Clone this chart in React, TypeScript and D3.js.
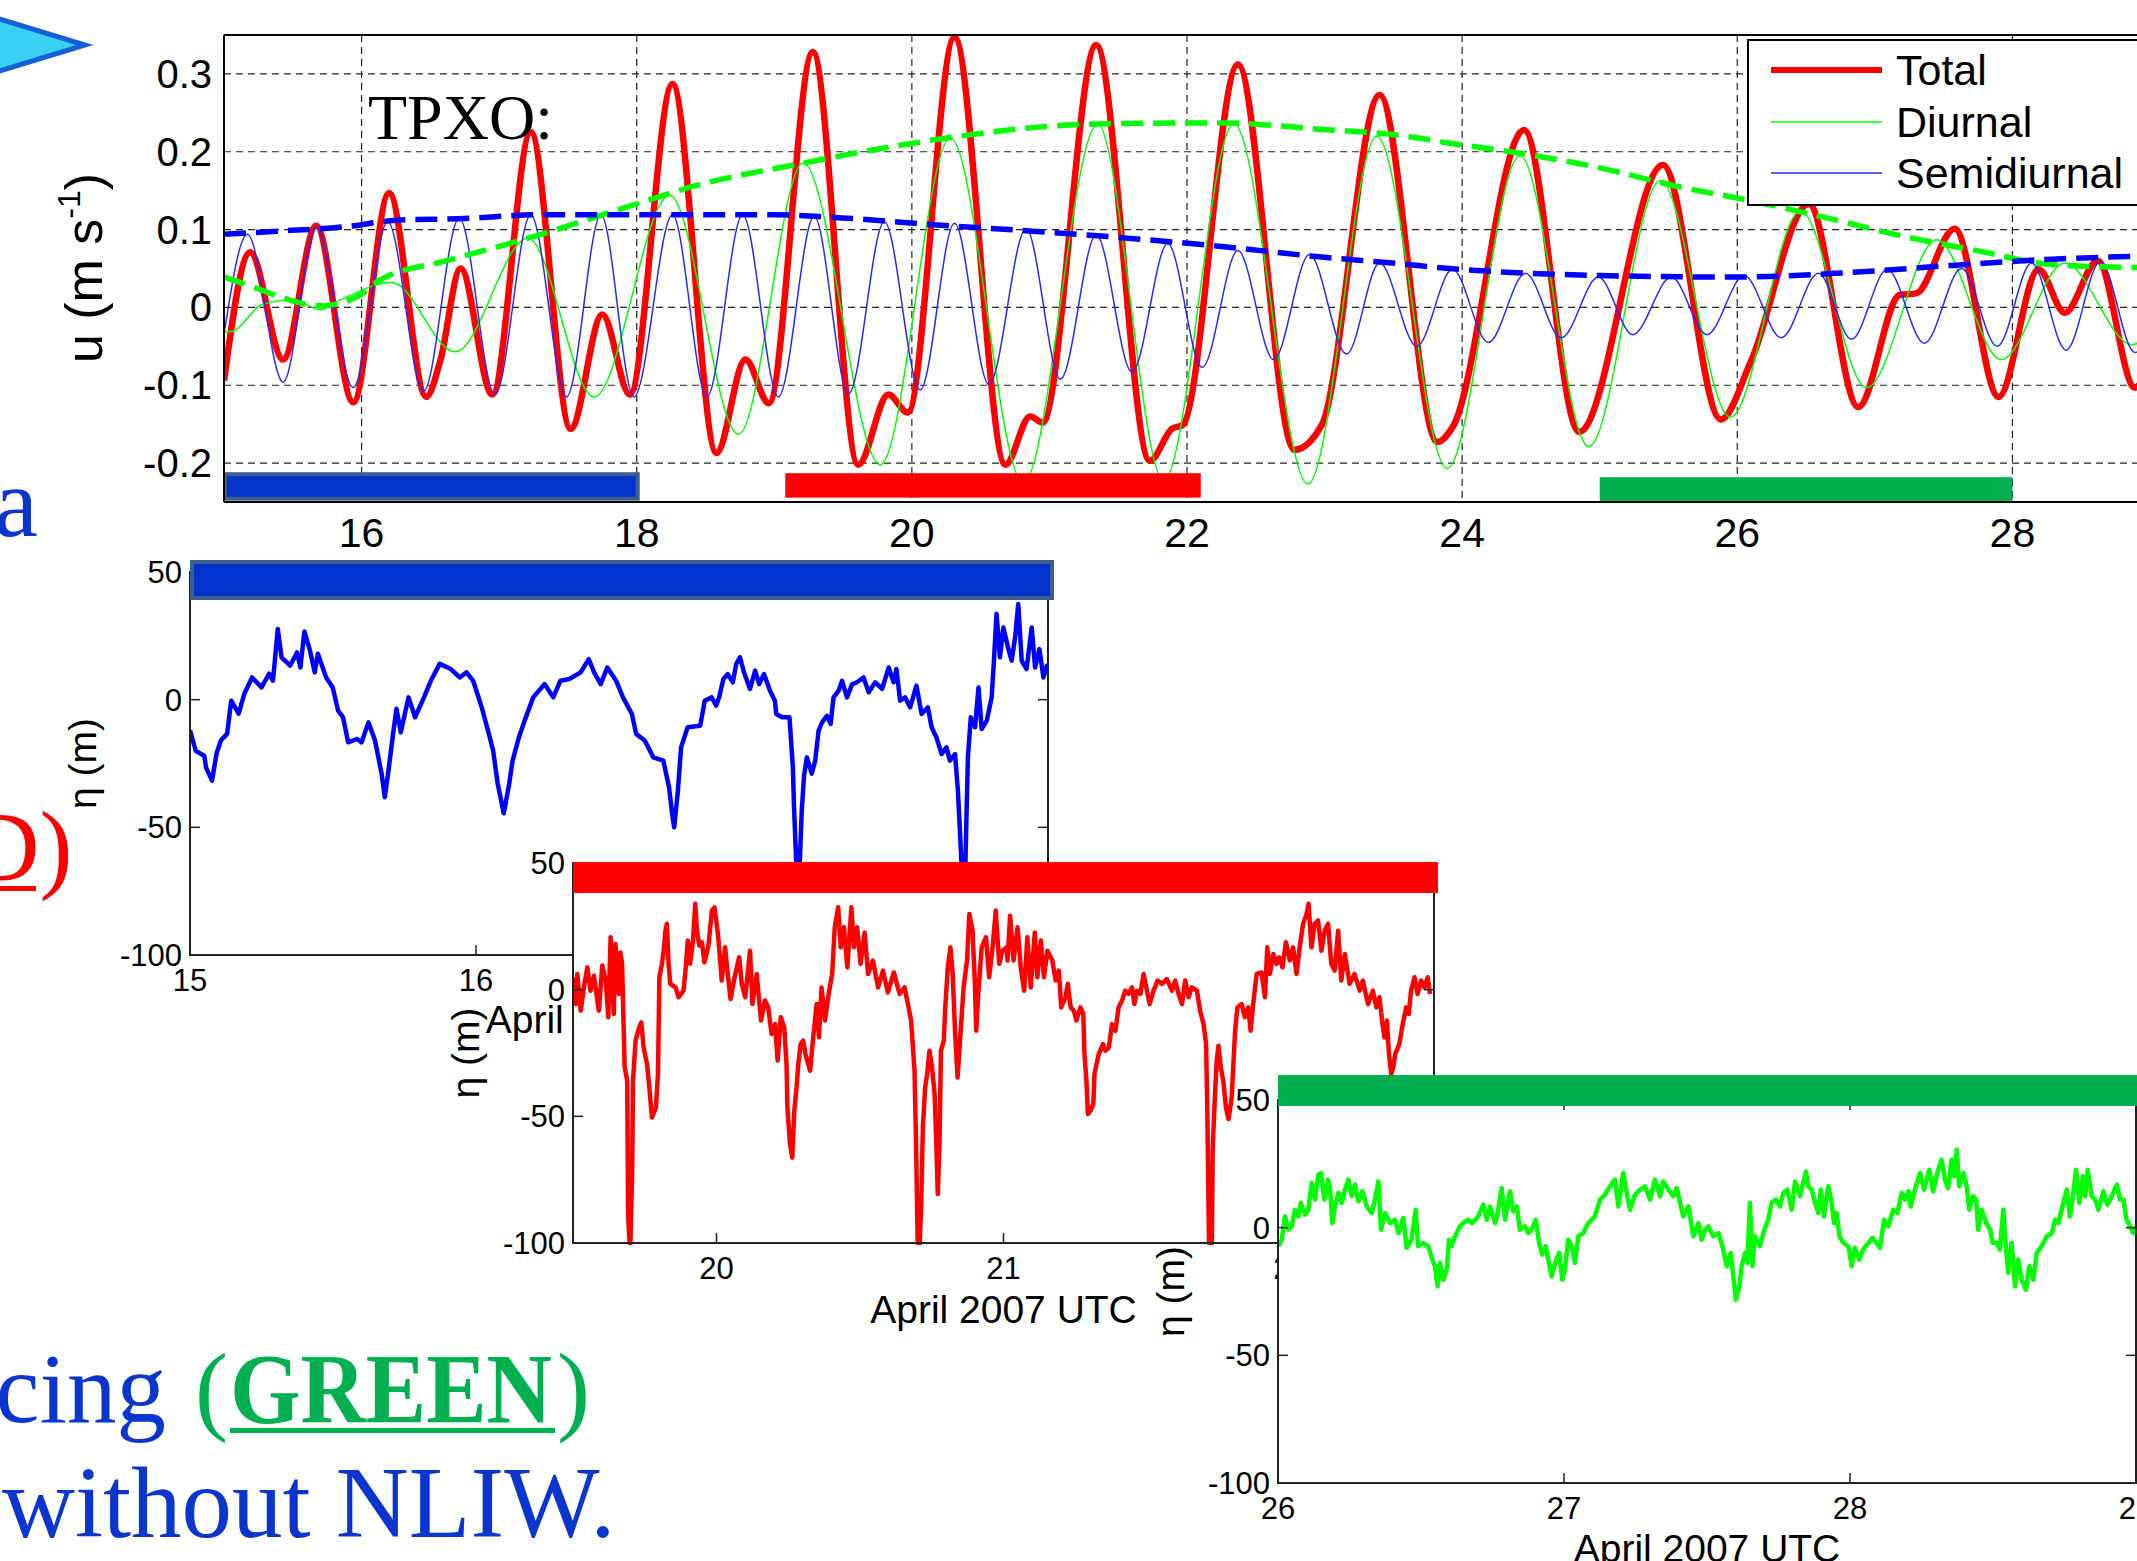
import React from "react";
import * as d3 from "d3";

type Pt = [number, number];

// ---- top panel: TPXO velocity u (m/s) vs day of April ----
const dayTicks = [16, 18, 20, 22, 24, 26, 28];
const uTicks = [-0.2, -0.1, 0, 0.1, 0.2, 0.3];
const legendNames = ["Total", "Diurnal", "Semidiurnal"];

const totalU: Pt[] = [
  [15.0, -0.094], [15.19, 0.071], [15.43, -0.067], [15.67, 0.105], [15.94, -0.122], [16.2, 0.147],
  [16.47, -0.115], [16.57, -0.07], [16.72, 0.05], [16.95, -0.112], [17.23, 0.225], [17.52, -0.156],
  [17.75, -0.009], [17.95, -0.112], [18.26, 0.287], [18.58, -0.187], [18.79, -0.067], [18.96, -0.123],
  [19.28, 0.328], [19.61, -0.202], [19.83, -0.112], [19.97, -0.135], [20.31, 0.347], [20.68, -0.202],
  [20.86, -0.14], [20.95, -0.148], [21.34, 0.337], [21.73, -0.197], [21.89, -0.156], [21.97, -0.151],
  [22.37, 0.312], [22.78, -0.183], [22.98, -0.151], [23.4, 0.273], [23.82, -0.173], [23.93, -0.154],
  [24.45, 0.228], [24.85, -0.16], [25.46, 0.183], [25.88, -0.144], [26.1, -0.069], [26.52, 0.133],
  [26.88, -0.128], [27.18, 0.016], [27.3, 0.018], [27.58, 0.101], [27.9, -0.115], [28.19, 0.049],
  [28.38, -0.007], [28.62, 0.06], [28.89, -0.103], [28.98, -0.08],
];

const diurnalU: Pt[] = [
  [15.0, -0.032], [15.07, -0.03], [15.28, 0.004], [15.5, 0.01], [15.7, -0.003], [15.85, 0.01],
  [16.22, 0.032], [16.68, -0.057], [17.21, 0.089], [17.69, -0.115], [18.24, 0.144], [18.74, -0.163],
  [19.21, 0.186], [19.77, -0.202], [20.28, 0.218], [20.81, -0.225], [21.35, 0.235], [21.83, -0.222],
  [22.34, 0.236], [22.88, -0.227], [23.38, 0.22], [23.89, -0.207], [24.42, 0.195], [24.92, -0.179],
  [25.44, 0.163], [25.95, -0.141], [26.46, 0.124], [26.94, -0.103], [27.45, 0.087], [27.92, -0.067],
  [28.38, 0.057], [28.87, -0.048], [28.98, -0.035],
];

const semidiurnalU: Pt[] = [
  [15.0, -0.035], [15.17, 0.094], [15.43, -0.096], [15.67, 0.103], [15.94, -0.103], [16.19, 0.11],
  [16.45, -0.108], [16.71, 0.115], [16.97, -0.112], [17.23, 0.119], [17.49, -0.115], [17.74, 0.119],
  [17.98, -0.115], [18.26, 0.119], [18.51, -0.115], [18.77, 0.119], [19.03, -0.115], [19.29, 0.117],
  [19.54, -0.111], [19.8, 0.11], [20.06, -0.106], [20.31, 0.108], [20.56, -0.099], [20.83, 0.101],
  [21.08, -0.092], [21.34, 0.093], [21.6, -0.083], [21.86, 0.082], [22.11, -0.077], [22.37, 0.073],
  [22.63, -0.067], [22.89, 0.068], [23.16, -0.06], [23.4, 0.057], [23.67, -0.05], [23.93, 0.049],
  [24.19, -0.045], [24.46, 0.044], [24.72, -0.039], [24.99, 0.039], [25.24, -0.035], [25.52, 0.039],
  [25.78, -0.035], [26.05, 0.041], [26.32, -0.039], [26.59, 0.044], [26.83, -0.041], [27.09, 0.049],
  [27.36, -0.046], [27.63, 0.05], [27.89, -0.05], [28.14, 0.057], [28.39, -0.055], [28.64, 0.059],
  [28.89, -0.058], [28.98, -0.045],
];

const diurnalEnv: Pt[] = [
  [15.0, 0.039], [15.2, 0.027], [15.45, 0.011], [15.7, 0.002], [15.97, 0.014], [16.13, 0.035],
  [16.62, 0.06], [17.27, 0.092], [17.91, 0.128], [18.46, 0.158], [19.14, 0.183], [20.01, 0.211],
  [20.88, 0.231], [21.43, 0.236], [22.27, 0.237], [22.96, 0.229], [23.55, 0.221], [23.91, 0.211],
  [24.46, 0.197], [25.01, 0.179], [25.55, 0.156], [26.1, 0.137], [26.65, 0.115], [27.19, 0.092],
  [27.74, 0.073], [28.29, 0.055], [28.98, 0.051],
];

const semidiurnalEnv: Pt[] = [
  [15.0, 0.094], [15.4, 0.098], [15.9, 0.104], [16.25, 0.112], [16.7, 0.114], [17.3, 0.119],
  [19.0, 0.119], [19.49, 0.115], [20.18, 0.106], [20.88, 0.098], [21.57, 0.089], [22.27, 0.078],
  [22.96, 0.065], [23.49, 0.057], [23.91, 0.05], [25.0, 0.041], [26.0, 0.039], [26.83, 0.045],
  [27.56, 0.054], [28.29, 0.062], [28.98, 0.066],
];

// periods marked by the coloured bars (day of April)
const bluePeriod: Pt = [15, 18];
const redPeriod: Pt = [19.08, 22.1];
const greenPeriod: Pt = [25, 28];

// ---- insets: eta (m) ----
const etaTicks = [50, 0, -50, -100];
const blueDays = [15, 16, 17, 18];
const redDays = [20, 21, 22];
const greenDays = [26, 27, 28, 29];

const blueEta: Pt[] = [
  [15.0, -12], [15.02, -20], [15.05, -22], [15.056, -26.5], [15.077, -31.7], [15.093, -21], [15.108, -16],
  [15.13, -13.3], [15.144, -0.4], [15.17, -5.5], [15.19, 2.3], [15.217, 8.7], [15.25, 4.8], [15.277, 10.2],
  [15.29, 7.4], [15.307, 27.7], [15.32, 16.6], [15.35, 13.3], [15.374, 18.5], [15.386, 12.6], [15.4, 26.7],
  [15.42, 19], [15.436, 10.7], [15.447, 18], [15.476, 8.7], [15.499, 4.8], [15.518, -4.3], [15.535, -6.9],
  [15.553, -16.7], [15.584, -15.4], [15.6, -16.7], [15.624, -8.9], [15.647, -16], [15.67, -29], [15.681, -38.2],
  [15.694, -27.8], [15.71, -13.4], [15.722, -3.6], [15.737, -12.8], [15.764, 0.9], [15.787, -6.9], [15.818, 0.9],
  [15.842, 7.4], [15.873, 14], [15.912, 12], [15.943, 8.7], [15.967, 10.7], [15.99, 7.4], [16.02, -3],
  [16.045, -13.4], [16.06, -20], [16.076, -33], [16.097, -44.5], [16.116, -33], [16.128, -23.9], [16.15, -14.8],
  [16.17, -8.2], [16.2, 0.9], [16.24, 6.1], [16.27, 0.9], [16.295, 7.4], [16.326, 8.1], [16.366, 10.7],
  [16.394, 15.9], [16.413, 10.7], [16.436, 6.1], [16.459, 12.6], [16.49, 7.4], [16.514, 0.9], [16.545, -5.6],
  [16.56, -13.4], [16.59, -16], [16.62, -22.6], [16.655, -23.9], [16.675, -34.3], [16.686, -44.8], [16.693, -50],
  [16.706, -35.6], [16.717, -18.7], [16.74, -10.8], [16.784, -10.2], [16.8, -0.4], [16.824, 0.9], [16.84, -2.3],
  [16.85, 0.9], [16.865, 8.1], [16.88, 10], [16.898, 6.8], [16.91, 14], [16.923, 16.6], [16.937, 10.7],
  [16.958, 4.2], [16.976, 11.4], [16.99, 6.1], [17.007, 10], [17.028, 3.5], [17.045, -0.4], [17.05, -5.6],
  [17.07, -6.9], [17.096, -6.9], [17.1, -13.4], [17.108, -26.5], [17.112, -42.2], [17.122, -70], [17.13, -70],
  [17.139, -43.5], [17.147, -29.8], [17.157, -22.6], [17.174, -29], [17.186, -23.9], [17.198, -12.1],
  [17.21, -8.9], [17.227, -6.3], [17.24, -9.5], [17.25, 0.9], [17.268, 3.5], [17.28, 7.4], [17.297, 0.9],
  [17.315, 6.1], [17.332, 6.8], [17.355, 8.7], [17.373, 2.9], [17.396, 6.8], [17.42, 4.2], [17.443, 12.6],
  [17.46, 6.8], [17.47, 12], [17.483, -0.4], [17.5, 0.9], [17.518, -3], [17.54, 5.5], [17.558, -5.6],
  [17.58, -3], [17.593, -10.8], [17.61, -14.8], [17.628, -21.3], [17.645, -18.7], [17.657, -23.9],
  [17.675, -21.3], [17.685, -35.6], [17.692, -51.3], [17.7, -70], [17.71, -70], [17.716, -40.8], [17.72, -22.6],
  [17.73, -6.9], [17.745, -10.8], [17.757, 4.8], [17.768, -11.5], [17.786, -8.2], [17.803, 0.9], [17.811, 15.3],
  [17.82, 33.6], [17.832, 16.6], [17.844, 28.3], [17.86, 20.5], [17.873, 15.3], [17.885, 24.4], [17.896, 37.5],
  [17.908, 15.3], [17.925, 12], [17.943, 28.3], [17.955, 12.6], [17.97, 19.8], [17.984, 8.7], [17.996, 13.3],
  [18.007, 12],
];

const redEta: Pt[] = [
  [19.5, 4.9], [19.51, -5.7], [19.515, 6.2], [19.527, -8.3], [19.538, 0.9], [19.55, 8.8], [19.561, -0.4],
  [19.573, 5.5], [19.59, -8.3], [19.602, 9.5], [19.614, 3.6], [19.623, -10.9], [19.631, 20.7], [19.642, -9.6],
  [19.648, 18], [19.66, -1.7], [19.665, 14.7], [19.671, 10.2], [19.68, -30.7], [19.689, -36], [19.692, -88.6],
  [19.697, -100], [19.7, -100], [19.706, -72.8], [19.709, -36], [19.718, -20.1], [19.729, -15.5], [19.738, -12.9],
  [19.746, -22.8], [19.758, -29.4], [19.766, -38.6], [19.775, -50.5], [19.789, -46.5], [19.796, -33.3],
  [19.801, 4.9], [19.81, 10.2], [19.816, 15.4], [19.822, 23.3], [19.827, 26], [19.833, 10.2], [19.839, 2.3],
  [19.857, 0.9], [19.868, -3], [19.885, -0.4], [19.893, 8.8], [19.9, 19.4], [19.908, 10.2], [19.918, 19.4],
  [19.926, 33.9], [19.932, 23.3], [19.94, 17.4], [19.949, 18.7], [19.958, 10.8], [19.972, 17.4], [19.984, 31.2],
  [19.993, 32.5], [20.005, 22], [20.013, 11.5], [20.018, 3.6], [20.03, 16.7], [20.039, 6.2], [20.049, -3.7],
  [20.063, 4.9], [20.079, 12.8], [20.088, 2.3], [20.1, -3], [20.117, 15.4], [20.125, -5.7], [20.14, 6.2],
  [20.155, -12.2], [20.169, -4.3], [20.18, -7], [20.192, -17.5], [20.204, -13.6], [20.213, -28], [20.224, -10.9],
  [20.236, -14.9], [20.244, -29.4], [20.247, -46.5], [20.256, -61], [20.264, -66.3], [20.271, -47.8],
  [20.279, -38.6], [20.285, -29.4], [20.293, -21.5], [20.302, -20.1], [20.31, -25.4], [20.326, -32],
  [20.337, -18.8], [20.349, -5.7], [20.357, -18.8], [20.366, 0.9], [20.378, -12.2], [20.389, -3], [20.403, 6.2],
  [20.412, 24.6], [20.424, 32.5], [20.433, 16.7], [20.444, 24.6], [20.456, 8.8], [20.47, 32.5], [20.479, 16.7],
  [20.49, 24.6], [20.502, 10.2], [20.516, 22.6], [20.528, 6.2], [20.545, 11.5], [20.563, 0.9], [20.58, 7.5],
  [20.597, -1.1], [20.618, 6.8], [20.638, -1.7], [20.655, 0.9], [20.667, -5.7], [20.678, -12.2], [20.69, -32],
  [20.696, -64.9], [20.701, -100], [20.708, -100], [20.713, -86], [20.719, -54.4], [20.727, -38.6],
  [20.734, -33.3], [20.742, -24.1], [20.751, -30.7], [20.76, -41.2], [20.765, -57], [20.771, -80.7],
  [20.777, -61], [20.782, -24.1], [20.792, -20.1], [20.797, -7], [20.806, 8.8], [20.815, 16.7], [20.823, 6.2],
  [20.831, -16.2], [20.84, -34.7], [20.85, -17.5], [20.861, 0.9], [20.873, 11.5], [20.881, 29.9], [20.892, 23.3],
  [20.9, 3.6], [20.905, -16.2], [20.912, -1.7], [20.924, 16.7], [20.939, 20.7], [20.95, 4.9], [20.962, 16.7],
  [20.973, 31.2], [20.985, 10.2], [20.997, 15.4], [21.011, 16.7], [21.014, 11.5], [21.023, 29.2], [21.035, 11.5],
  [21.049, 24.6], [21.06, 8.8], [21.072, -0.4], [21.083, 20.7], [21.095, 0.9], [21.109, 22.6], [21.118, 4.9],
  [21.13, 19.4], [21.141, 4.9], [21.153, 15.4], [21.17, 11.5], [21.182, 3.6], [21.193, 7.5], [21.201, -7],
  [21.216, -3], [21.224, 2.3], [21.234, -7], [21.245, -8.3], [21.254, -12.2], [21.268, -7], [21.278, -9.6],
  [21.282, -25.4], [21.289, -36], [21.294, -49.1], [21.303, -47.8], [21.313, -45.2], [21.317, -33.3],
  [21.324, -29.4], [21.332, -25.4], [21.347, -21.5], [21.355, -24.1], [21.367, -22.8], [21.378, -13.6],
  [21.39, -16.2], [21.401, -7], [21.413, -4.3], [21.424, -0.4], [21.436, -1.7], [21.448, 0.9], [21.456, -5.7],
  [21.465, -0.4], [21.477, -1.7], [21.488, 6.2], [21.5, -0.4], [21.509, -5.7], [21.523, -0.4], [21.537, 3.6],
  [21.552, 2.3], [21.569, 4.2], [21.587, -0.4], [21.598, 3.6], [21.61, -1.7], [21.622, -5.7], [21.633, 3.6],
  [21.645, -3], [21.656, 0.9], [21.674, -0.4], [21.685, -8.3], [21.697, -13.6], [21.706, -21.5], [21.71, -46.5],
  [21.716, -100], [21.726, -100], [21.729, -62.3], [21.737, -41.2], [21.743, -28], [21.749, -22.1],
  [21.757, -30.7], [21.766, -36], [21.775, -46.5], [21.784, -51.1], [21.795, -42.6], [21.801, -29.4],
  [21.807, -16.2], [21.815, -7], [21.83, -5.7], [21.841, -10.9], [21.853, -7], [21.861, -16.2], [21.87, -5.7],
  [21.882, 6.2], [21.899, 6.8], [21.911, -3], [21.919, 16.7], [21.928, 6.2], [21.94, 14.1], [21.951, 10.2],
  [21.96, 12.8], [21.972, 8.8], [21.984, 18.7], [21.998, 11.5], [22.009, 16.7], [22.021, 6.2], [22.032, 16.7],
  [22.044, 26], [22.056, 29.9], [22.063, 33.9], [22.073, 16.7], [22.084, 26], [22.096, 27.3], [22.108, 15.4],
  [22.119, 23.3], [22.131, 26], [22.142, 10.2], [22.154, 7.5], [22.166, 23.3], [22.177, 3.6], [22.189, 14.1],
  [22.206, 2.3], [22.223, 6.2], [22.241, -0.4], [22.252, 3.6], [22.27, -5.7], [22.287, -0.4], [22.299, -7],
  [22.31, -3], [22.319, -12.2], [22.327, -18.8], [22.336, -12.2], [22.343, -25.4], [22.351, -33.3],
  [22.358, -30.7], [22.365, -25.4], [22.379, -21.5], [22.391, -13.6], [22.403, -7], [22.412, -9.6],
  [22.42, -0.4], [22.432, 4.9], [22.443, -1.7], [22.455, 3.6], [22.467, 0.9], [22.478, 4.9], [22.486, -1.7],
];

const greenEta: Pt[] = [
  [26.001, -7.3], [26.013, -4.7], [26.024, 4.4], [26.036, -0.8], [26.048, 0.5], [26.059, 7], [26.071, 4.4],
  [26.08, 9.7], [26.094, 5.1], [26.106, 7], [26.118, 17.5], [26.129, 11], [26.141, 20.7], [26.15, 21.4],
  [26.162, 11], [26.174, 18.8], [26.182, 14.9], [26.19, 1.8], [26.199, 8.3], [26.211, 13.6], [26.223, 9.7],
  [26.234, 14.9], [26.246, 18.8], [26.258, 12.3], [26.269, 16.8], [26.281, 10.3], [26.295, 14.2], [26.31, 8.3],
  [26.328, 5.7], [26.339, 11], [26.351, 18.1], [26.36, -0.8], [26.374, 5.7], [26.392, 1.8], [26.409, 3.1],
  [26.421, -2.1], [26.438, 3.8], [26.45, -7.9], [26.467, -4.7], [26.481, 7], [26.49, -7.3], [26.508, -6],
  [26.525, -7.3], [26.54, -12.5], [26.549, -15.1], [26.558, -23], [26.566, -13.8], [26.578, -20.4],
  [26.59, -16.4], [26.598, -4.7], [26.607, -7.3], [26.619, -3.4], [26.636, 0.5], [26.648, 1.8], [26.663, 3.1],
  [26.679, 1.8], [26.7, 4.4], [26.718, 9], [26.73, 3.1], [26.741, 8.3], [26.759, 1.8], [26.768, 5.7],
  [26.782, 15.5], [26.794, 3.1], [26.811, 14.2], [26.823, 6.4], [26.835, 8.3], [26.846, -0.8], [26.864, 0.5],
  [26.875, -2.1], [26.887, -0.8], [26.901, 3.1], [26.913, -6], [26.924, -10.6], [26.936, -7.3], [26.945, -12.5],
  [26.957, -19.1], [26.969, -13.8], [26.983, -9.9], [26.994, -20.4], [27.003, -16.4], [27.015, -4.7],
  [27.027, -7.3], [27.038, -13.8], [27.05, -3.4], [27.067, -2.1], [27.085, 1.8], [27.108, 4.4], [27.126, 11],
  [27.143, 12.9], [27.161, 16.2], [27.178, 18.8], [27.19, 8.3], [27.207, 21.4], [27.219, 13.6], [27.231, 7],
  [27.248, 12.9], [27.266, 14.9], [27.283, 16.2], [27.301, 11], [27.318, 18.8], [27.336, 12.3], [27.347, 18.1],
  [27.365, 14.9], [27.382, 12.3], [27.394, 15.5], [27.406, 9.7], [27.417, 4.4], [27.435, 8.3], [27.452, -3.4],
  [27.47, 1.8], [27.481, -4.7], [27.493, -0.8], [27.505, 0.5], [27.522, -3.4], [27.54, -2.1], [27.557, -8.6],
  [27.569, -15.1], [27.583, -9.9], [27.592, -19.1], [27.601, -28.2], [27.613, -23], [27.621, -15.1],
  [27.633, -9.9], [27.641, -13.8], [27.65, 9.7], [27.659, -15.1], [27.667, -3.4], [27.685, -7.3], [27.697, -2.1],
  [27.714, 3.1], [27.726, 9.7], [27.741, 11], [27.755, 8.3], [27.767, 13.6], [27.781, 14.9], [27.796, 7],
  [27.808, 18.1], [27.825, 12.3], [27.846, 22], [27.854, 16.2], [27.866, 14.9], [27.878, 9.7], [27.889, 5.7],
  [27.898, 14.9], [27.909, 4.4], [27.924, 16.2], [27.936, 9.7], [27.944, 1.8], [27.953, 5.7], [27.963, -3.4],
  [27.977, -6], [27.994, -7.3], [28.006, -15.1], [28.017, -7.9], [28.032, -12.5], [28.046, -8.6], [28.064, -6],
  [28.079, -4], [28.093, -6], [28.105, -7.9], [28.119, 3.1], [28.134, 0.5], [28.151, 7], [28.165, 5.7],
  [28.181, 13.6], [28.192, 11], [28.204, 14.2], [28.212, 8.3], [28.227, 14.9], [28.245, 21.4], [28.259, 14.9],
  [28.277, 22.7], [28.291, 14.2], [28.305, 21.4], [28.32, 26.6], [28.332, 18.8], [28.343, 15.5], [28.355, 26.6],
  [28.364, 20.1], [28.373, 30.5], [28.382, 16.2], [28.396, 21.4], [28.408, 16.2], [28.417, 7], [28.429, 12.3],
  [28.441, 11], [28.448, -0.8], [28.46, 7], [28.476, 1.8], [28.49, -0.8], [28.499, -6], [28.513, -6],
  [28.524, -8.6], [28.536, 7], [28.545, -7.3], [28.553, -17.7], [28.565, -6], [28.577, -23], [28.588, -12.5],
  [28.6, -20.4], [28.615, -24.3], [28.627, -15.1], [28.641, -20.4], [28.653, -9.9], [28.67, -7.3], [28.688, -3.4],
  [28.706, -2.1], [28.717, 3.1], [28.728, 1.8], [28.746, 9.7], [28.758, 14.9], [28.769, 4.4], [28.781, 13.6],
  [28.79, 22.7], [28.802, 9.7], [28.814, 20.1], [28.822, 12.3], [28.831, 22.7], [28.845, 12.3], [28.857, 11],
  [28.869, 7], [28.886, 14.2], [28.9, 9], [28.915, 12.3], [28.933, 16.8], [28.944, 11], [28.956, 11],
  [28.967, 3.1], [28.979, 0.5], [28.99, -2.1], [28.997, 0.5],
];

const SANS = "'Liberation Sans', Arial, sans-serif";
const SERIF = "'Liberation Serif', 'Times New Roman', serif";
const TXT_BLUE = "#0a35cf";
const TXT_GREEN = "#00b050";

function fmtU(v: number) {
  return v === 0 ? "0" : v.toFixed(1);
}

const TopPanel: React.FC = () => {
  const left = 224, top = 35, bottom = 502;
  const x = d3.scaleLinear().domain([15, 29]).range([left, 2150]);
  const y = d3.scaleLinear().domain([-0.25, 0.35]).range([bottom, top]);
  const smooth = d3.line<Pt>().x((d) => x(d[0])).y((d) => y(d[1])).curve(d3.curveMonotoneX);

  const barTop = y(-0.213);
  const barH = y(-0.247) - barTop;

  return (
    <g>
      <clipPath id="topclip">
        <rect x={left} y={top} width={2150 - left} height={bottom - top} />
      </clipPath>
      {/* grid */}
      {dayTicks.map((d) => (
        <line key={"gx" + d} x1={x(d)} x2={x(d)} y1={top} y2={bottom} stroke="#222" strokeWidth={1.2} strokeDasharray="7 5" />
      ))}
      {uTicks.map((v) => (
        <line key={"gy" + v} x1={left} x2={2150} y1={y(v)} y2={y(v)} stroke="#222" strokeWidth={1.2} strokeDasharray="7 5" />
      ))}

      <g clipPath="url(#topclip)">
        <path d={smooth(totalU) || ""} fill="none" stroke="#ff0000" strokeWidth={6.5} strokeLinejoin="round" />
        <path d={smooth(diurnalU) || ""} fill="none" stroke="#00ff00" strokeWidth={1.5} />
        <path d={smooth(semidiurnalU) || ""} fill="none" stroke="#2828ff" strokeWidth={1.5} />
        <path d={smooth(diurnalEnv) || ""} fill="none" stroke="#00ff00" strokeWidth={5.5} strokeDasharray="22 10" />
        <path d={smooth(semidiurnalEnv) || ""} fill="none" stroke="#0000ff" strokeWidth={5.5} strokeDasharray="22 10" />
      </g>

      {/* period bars */}
      <rect x={x(bluePeriod[0]) + 1} y={barTop + 1} width={x(bluePeriod[1]) - x(bluePeriod[0])} height={barH - 2}
        fill="#0033cc" stroke="#3c5f8f" strokeWidth={4} />
      <rect x={x(redPeriod[0])} y={barTop} width={x(redPeriod[1]) - x(redPeriod[0])} height={barH - 2} fill="#ff0000" />
      <rect x={x(greenPeriod[0])} y={barTop + 4} width={x(greenPeriod[1]) - x(greenPeriod[0])} height={barH - 2} fill="#00b050" />

      {/* frame */}
      <line x1={left} x2={2150} y1={top} y2={top} stroke="#000" strokeWidth={2} />
      <line x1={left} x2={2150} y1={bottom} y2={bottom} stroke="#000" strokeWidth={2} />
      <line x1={left} x2={left} y1={top} y2={bottom} stroke="#000" strokeWidth={2} />

      {uTicks.map((v) => (
        <text key={"ty" + v} x={left - 12} y={y(v) + 14} textAnchor="end" fontFamily={SANS} fontSize={40}>
          {fmtU(v)}
        </text>
      ))}
      {dayTicks.map((d) => (
        <text key={"tx" + d} x={x(d)} y={bottom + 45} textAnchor="middle" fontFamily={SANS} fontSize={41}>
          {d}
        </text>
      ))}

      <text transform={`translate(102, 268) rotate(-90)`} textAnchor="middle" fontFamily={SANS} fontSize={52}>
        u (m s<tspan fontSize={32} dy={-22}>-1</tspan>
        <tspan dy={22}>)</tspan>
      </text>

      <text x={368} y={139} fontFamily={SERIF} fontSize={64}>TPXO:</text>

      {/* legend */}
      <rect x={1748} y={40} width={450} height={165} fill="#fff" stroke="#000" strokeWidth={2} />
      {legendNames.map((n, i) => {
        const ly = [70, 122, 173][i];
        const col = ["#ff0000", "#00ff00", "#2828ff"][i];
        const sw = [6, 1.5, 1.5][i];
        return (
          <g key={n}>
            <line x1={1771} x2={1882} y1={ly} y2={ly} stroke={col} strokeWidth={sw} />
            <text x={1896} y={ly + 15} fontFamily={SANS} fontSize={43}>{n}</text>
          </g>
        );
      })}
    </g>
  );
};

interface InsetProps {
  id: string;
  data: Pt[];
  domain: Pt;
  left: number;
  right: number;
  top: number;
  bottom: number;
  days: number[];
  color: string;
  barColor: string;
  barStroke?: string;
  barTop: number;
  barH: number;
  barRight: number;
  labelBaseline: number;
}

const Inset: React.FC<InsetProps> = (p) => {
  const x = d3.scaleLinear().domain(p.domain).range([p.left, p.right]);
  const y = d3.scaleLinear().domain([-100, 50]).range([p.bottom, p.top]);
  const line = d3.line<Pt>().x((d) => x(d[0])).y((d) => y(d[1]));
  const frame = "#222";
  return (
    <g>
      <rect x={p.left} y={p.barTop} width={p.right - p.left} height={p.bottom - p.barTop} fill="#fff" />
      <clipPath id={p.id}>
        <rect x={p.left} y={p.top} width={p.right - p.left} height={p.bottom - p.top + 2} />
      </clipPath>
      <path d={line(p.data) || ""} fill="none" stroke={p.color} strokeWidth={4.5} strokeLinejoin="round"
        clipPath={`url(#${p.id})`} />

      {/* frame + ticks */}
      <rect x={p.left} y={p.top} width={p.right - p.left} height={p.bottom - p.top} fill="none" stroke={frame} strokeWidth={2} />
      {etaTicks.map((v) => (
        <g key={"t" + v}>
          <line x1={p.left} x2={p.left + 10} y1={y(v)} y2={y(v)} stroke={frame} strokeWidth={1.5} />
          <line x1={p.right - 10} x2={p.right} y1={y(v)} y2={y(v)} stroke={frame} strokeWidth={1.5} />
        </g>
      ))}
      {p.days.map((d) => (
        <g key={"d" + d}>
          <line x1={x(d)} x2={x(d)} y1={p.bottom} y2={p.bottom - 10} stroke={frame} strokeWidth={1.5} />
          <line x1={x(d)} x2={x(d)} y1={p.top} y2={p.top + 10} stroke={frame} strokeWidth={1.5} />
        </g>
      ))}

      <rect x={p.left + (p.barStroke ? 2 : 0)} y={p.barTop + (p.barStroke ? 2 : 0)}
        width={p.barRight - p.left - (p.barStroke ? 4 : 0)} height={p.barH - (p.barStroke ? 4 : 0)}
        fill={p.barColor} stroke={p.barStroke || "none"} strokeWidth={p.barStroke ? 4 : 0} />

      {etaTicks.map((v) => (
        <text key={"l" + v} x={p.left - 8} y={y(v) + 11} textAnchor="end" fontFamily={SANS} fontSize={31}>
          {v}
        </text>
      ))}
      {p.days.map((d) => (
        <text key={"ld" + d} x={x(d)} y={p.bottom + 36} textAnchor="middle" fontFamily={SANS} fontSize={31}>
          {d}
        </text>
      ))}
      <text x={(p.left + p.right) / 2} y={p.labelBaseline} textAnchor="middle" fontFamily={SANS} fontSize={39}>
        April 2007 UTC
      </text>
      <text transform={`translate(${p.left - 94}, ${(p.top + p.bottom) / 2}) rotate(-90)`} textAnchor="middle"
        fontFamily={SANS} fontSize={39}>
        η (m)
      </text>
    </g>
  );
};

const App: React.FC = () => {
  return (
    <svg width={2137} height={1561} style={{ position: "absolute", left: 0, top: 0, background: "#fff" }}>
      <rect x={0} y={0} width={2137} height={1561} fill="#fff" />

      {/* slide text fragments on the left */}
      <polygon points="-20,13 85,45 -20,77" fill="#3ad2f2" stroke="#1560d8" strokeWidth={5} strokeLinejoin="miter" />
      <text x={-6} y={536} fontFamily={SERIF} fontSize={99} fill={TXT_BLUE}>a</text>
      <text x={-32} y={880} fontFamily={SERIF} fontSize={99} fill="#ff0000">D)</text>
      <rect x={-32} y={886} width={68} height={5} fill="#ff0000" />
      <text x={166} y={1422} textAnchor="end" fontFamily={SERIF} fontSize={99} fill={TXT_BLUE}>cing</text>
      <text x={195} y={1422} fontFamily={SERIF} fontSize={99} fill={TXT_GREEN}>(</text>
      <text x={230} y={1422} fontFamily={SERIF} fontSize={99} fontWeight="bold" fill={TXT_GREEN}
        textLength={322} lengthAdjust="spacingAndGlyphs">GREEN</text>
      <rect x={230} y={1428} width={325} height={5} fill={TXT_GREEN} />
      <text x={557} y={1422} fontFamily={SERIF} fontSize={99} fill={TXT_GREEN}>)</text>
      <text x={2} y={1537} fontFamily={SERIF} fontSize={101} fill={TXT_BLUE}>without NLIW.</text>

      <TopPanel />

      <Inset id="cb" data={blueEta} domain={[15, 18]} left={190} right={1048} top={572} bottom={955}
        days={blueDays} color="#0000ff" barColor="#0033cc" barStroke="#3c5f8f" barTop={560} barH={40}
        barRight={1054} labelBaseline={1033} />
      <Inset id="cr" data={redEta} domain={[19.5, 22.5]} left={573} right={1434} top={863} bottom={1243}
        days={redDays} color="#ff0000" barColor="#ff0000" barTop={862} barH={31} barRight={1438}
        labelBaseline={1323} />
      <Inset id="cg" data={greenEta} domain={[26, 29]} left={1278} right={2136} top={1100} bottom={1483}
        days={greenDays} color="#00ff00" barColor="#00b050" barTop={1075} barH={31} barRight={2140}
        labelBaseline={1562} />
    </svg>
  );
};

export default App;
